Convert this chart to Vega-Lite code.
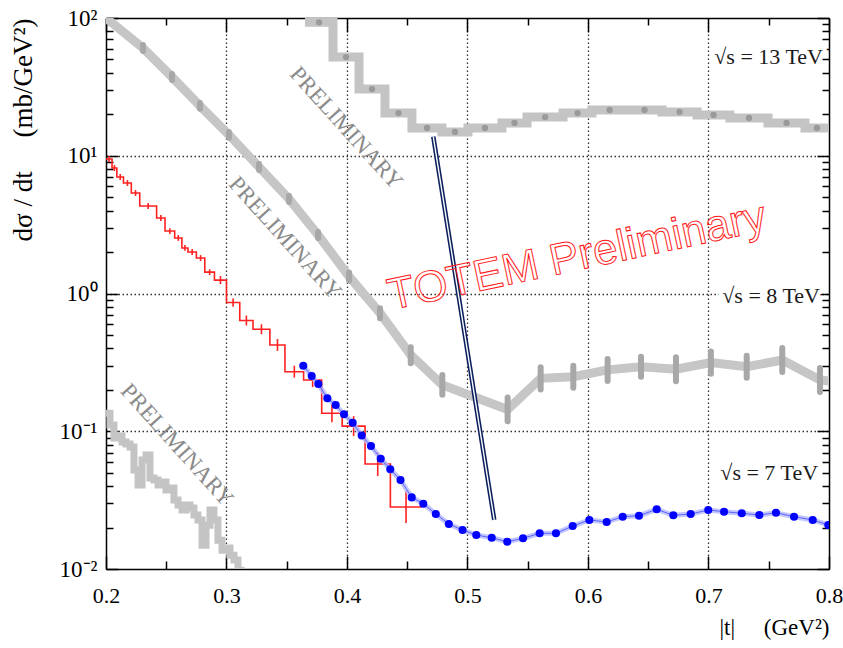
{
 "$schema": "https://vega.github.io/schema/vega-lite/v6.json",
 "width": 723,
 "height": 551,
 "autosize": "none",
 "padding": {"left": 106, "top": 18, "right": 14, "bottom": 79},
 "background": "white",
 "config": {"view": {"stroke": null}},
 "datasets": {
  "s13": [
   {"t": 0.3651, "v": 93}, {"t": 0.3884, "v": 52}, {"t": 0.41, "v": 30.5}, {"t": 0.4315, "v": 20.4},
   {"t": 0.4539, "v": 15.9}, {"t": 0.4788, "v": 14.9}, {"t": 0.5004, "v": 15.9}, {"t": 0.5286, "v": 17.3},
   {"t": 0.5494, "v": 19.1}, {"t": 0.5793, "v": 20.4}, {"t": 0.6033, "v": 21.5}, {"t": 0.6324, "v": 21.5},
   {"t": 0.6614, "v": 20.8}, {"t": 0.6905, "v": 19.8}, {"t": 0.7178, "v": 18.8}, {"t": 0.7494, "v": 17.3},
   {"t": 0.7801, "v": 15.9}, {"t": 0.8, "v": 15.9}
  ],
  "s13pts": [
   {"t": 0.3768, "v": 93}, {"t": 0.3992, "v": 52}, {"t": 0.4208, "v": 30.5}, {"t": 0.4427, "v": 20.4},
   {"t": 0.4664, "v": 15.9}, {"t": 0.4896, "v": 14.9}, {"t": 0.5145, "v": 15.9}, {"t": 0.539, "v": 17.3},
   {"t": 0.5644, "v": 19.1}, {"t": 0.5913, "v": 20.4}, {"t": 0.6179, "v": 21.5}, {"t": 0.6469, "v": 21.5},
   {"t": 0.676, "v": 20.8}, {"t": 0.7042, "v": 19.8}, {"t": 0.7336, "v": 18.8}, {"t": 0.7648, "v": 17.3},
   {"t": 0.79, "v": 15.9}
  ],
  "s8": [
   {"t": 0.2, "v": 100, "lo": null, "hi": null},
   {"t": 0.2307, "v": 60.5, "lo": 57.6, "hi": 63.6},
   {"t": 0.2548, "v": 37.3, "lo": 35.5, "hi": 39.2},
   {"t": 0.278, "v": 23, "lo": 21.9, "hi": 24.2},
   {"t": 0.302, "v": 14.2, "lo": 13.5, "hi": 14.9},
   {"t": 0.327, "v": 8.28, "lo": 7.88, "hi": 8.7},
   {"t": 0.3519, "v": 4.85, "lo": 4.61, "hi": 5.1},
   {"t": 0.376, "v": 2.66, "lo": 2.53, "hi": 2.8},
   {"t": 0.4017, "v": 1.33, "lo": 1.244, "hi": 1.422},
   {"t": 0.4274, "v": 0.72, "lo": 0.662, "hi": 0.783},
   {"t": 0.4529, "v": 0.357, "lo": 0.312, "hi": 0.408},
   {"t": 0.4791, "v": 0.217, "lo": 0.184, "hi": 0.256},
   {"t": 0.5333, "v": 0.144, "lo": 0.118, "hi": 0.176},
   {"t": 0.5607, "v": 0.242, "lo": 0.201, "hi": 0.291},
   {"t": 0.5878, "v": 0.249, "lo": 0.207, "hi": 0.299},
   {"t": 0.6163, "v": 0.279, "lo": 0.232, "hi": 0.335},
   {"t": 0.644, "v": 0.294, "lo": 0.249, "hi": 0.348},
   {"t": 0.673, "v": 0.282, "lo": 0.231, "hi": 0.345},
   {"t": 0.702, "v": 0.315, "lo": 0.262, "hi": 0.379},
   {"t": 0.7317, "v": 0.294, "lo": 0.245, "hi": 0.353},
   {"t": 0.7612, "v": 0.329, "lo": 0.269, "hi": 0.402},
   {"t": 0.7925, "v": 0.236, "lo": 0.193, "hi": 0.288},
   {"t": 0.8, "v": 0.232, "lo": null, "hi": null}
  ],
  "s7old": [
   {"t": 0.2, "v": 0.135}, {"t": 0.2033, "v": 0.111}, {"t": 0.2066, "v": 0.0893}, {"t": 0.21, "v": 0.0924},
   {"t": 0.2133, "v": 0.0836}, {"t": 0.2166, "v": 0.0808}, {"t": 0.2199, "v": 0.0769}, {"t": 0.2232, "v": 0.0523},
   {"t": 0.2266, "v": 0.0407}, {"t": 0.2299, "v": 0.0618}, {"t": 0.2332, "v": 0.0673}, {"t": 0.2365, "v": 0.0458},
   {"t": 0.2398, "v": 0.0443}, {"t": 0.2432, "v": 0.0407}, {"t": 0.2465, "v": 0.0428}, {"t": 0.2498, "v": 0.0375},
   {"t": 0.2531, "v": 0.0387}, {"t": 0.2564, "v": 0.0317}, {"t": 0.2598, "v": 0.0292}, {"t": 0.2631, "v": 0.0268},
   {"t": 0.2664, "v": 0.0292}, {"t": 0.2697, "v": 0.0277}, {"t": 0.273, "v": 0.0247}, {"t": 0.2763, "v": 0.0227},
   {"t": 0.2797, "v": 0.0149}, {"t": 0.283, "v": 0.0208}, {"t": 0.2863, "v": 0.0268}, {"t": 0.2896, "v": 0.0227},
   {"t": 0.2929, "v": 0.0162}, {"t": 0.2963, "v": 0.0137}, {"t": 0.2996, "v": 0.0142}, {"t": 0.3029, "v": 0.0126},
   {"t": 0.3062, "v": 0.0116}, {"t": 0.3095, "v": 0.0098}, {"t": 0.315, "v": 0.0098}
  ],
  "red": [
   {"t": 0.2, "v": 9.47}, {"t": 0.205, "v": 8.15}, {"t": 0.209, "v": 7.01}, {"t": 0.2145, "v": 6.34},
   {"t": 0.221, "v": 5.37}, {"t": 0.228, "v": 4.32}, {"t": 0.242, "v": 3.53}, {"t": 0.249, "v": 2.84},
   {"t": 0.257, "v": 2.53}, {"t": 0.263, "v": 2.14}, {"t": 0.268, "v": 2.0}, {"t": 0.275, "v": 1.81},
   {"t": 0.282, "v": 1.43}, {"t": 0.29, "v": 1.25}, {"t": 0.3, "v": 0.86}, {"t": 0.311, "v": 0.637},
   {"t": 0.322, "v": 0.55}, {"t": 0.336, "v": 0.423}, {"t": 0.3485, "v": 0.2706}, {"t": 0.364, "v": 0.2355},
   {"t": 0.379, "v": 0.135}, {"t": 0.396, "v": 0.109}, {"t": 0.415, "v": 0.0578}, {"t": 0.436, "v": 0.0282},
   {"t": 0.462, "v": 0.0282}
  ],
  "redErr": [
   {"t": 0.2025, "lo": 9.0, "hi": 9.96}, {"t": 0.207, "lo": 7.75, "hi": 8.57}, {"t": 0.2118, "lo": 6.67, "hi": 7.37},
   {"t": 0.2178, "lo": 6.03, "hi": 6.66}, {"t": 0.2245, "lo": 5.11, "hi": 5.64}, {"t": 0.235, "lo": 4.11, "hi": 4.54},
   {"t": 0.2455, "lo": 3.36, "hi": 3.71}, {"t": 0.253, "lo": 2.7, "hi": 2.98}, {"t": 0.26, "lo": 2.41, "hi": 2.66},
   {"t": 0.2655, "lo": 2.04, "hi": 2.25}, {"t": 0.2715, "lo": 1.9, "hi": 2.1}, {"t": 0.2785, "lo": 1.72, "hi": 1.9},
   {"t": 0.286, "lo": 1.36, "hi": 1.5}, {"t": 0.295, "lo": 1.17, "hi": 1.34}, {"t": 0.3055, "lo": 0.8, "hi": 0.92},
   {"t": 0.3165, "lo": 0.586, "hi": 0.692}, {"t": 0.329, "lo": 0.506, "hi": 0.598}, {"t": 0.3423, "lo": 0.383, "hi": 0.467},
   {"t": 0.3563, "lo": 0.245, "hi": 0.299}, {"t": 0.3715, "lo": 0.2095, "hi": 0.2647}, {"t": 0.3875, "lo": 0.116, "hi": 0.157},
   {"t": 0.4055, "lo": 0.0922, "hi": 0.1288}, {"t": 0.4255, "lo": 0.0473, "hi": 0.0706}, {"t": 0.449, "lo": 0.0216, "hi": 0.0369}
  ],
  "blue": [
   {"t": 0.3637, "v": 0.2991}, {"t": 0.3707, "v": 0.2518}, {"t": 0.3762, "v": 0.2203}, {"t": 0.3837, "v": 0.1735},
   {"t": 0.3906, "v": 0.1551}, {"t": 0.3975, "v": 0.1327}, {"t": 0.4047, "v": 0.1154}, {"t": 0.4122, "v": 0.0931},
   {"t": 0.4199, "v": 0.0781}, {"t": 0.428, "v": 0.0632}, {"t": 0.4359, "v": 0.053}, {"t": 0.4444, "v": 0.0443},
   {"t": 0.4537, "v": 0.0331}, {"t": 0.4633, "v": 0.0298}, {"t": 0.4737, "v": 0.0251}, {"t": 0.4845, "v": 0.0212},
   {"t": 0.4959, "v": 0.0192}, {"t": 0.5073, "v": 0.01765}, {"t": 0.5201, "v": 0.01685}, {"t": 0.533, "v": 0.01578},
   {"t": 0.5461, "v": 0.0167}, {"t": 0.5599, "v": 0.01816}, {"t": 0.5734, "v": 0.01816}, {"t": 0.5873, "v": 0.0205},
   {"t": 0.6011, "v": 0.0227}, {"t": 0.6155, "v": 0.02194}, {"t": 0.6288, "v": 0.02397}, {"t": 0.6423, "v": 0.02437},
   {"t": 0.657, "v": 0.02712}, {"t": 0.6708, "v": 0.02453}, {"t": 0.6852, "v": 0.02507}, {"t": 0.6998, "v": 0.02681},
   {"t": 0.7129, "v": 0.02606}, {"t": 0.7276, "v": 0.02538}, {"t": 0.7422, "v": 0.02466}, {"t": 0.756, "v": 0.02563},
   {"t": 0.771, "v": 0.02397}, {"t": 0.7865, "v": 0.0227}, {"t": 0.7994, "v": 0.02087}
  ],
  "labels": [
   {"t": 0.795, "v": 52, "txt": "√s = 13 TeV"},
   {"t": 0.7925, "v": 0.959, "txt": "√s = 8 TeV"},
   {"t": 0.7909, "v": 0.0498, "txt": "√s = 7 TeV"}
  ],
  "prelim": [
   {"t": 0.3992, "v": 15.9},
   {"t": 0.3486, "v": 2.53},
   {"t": 0.2589, "v": 0.0795}
  ]
 },
 "resolve": {"axis": {"x": "independent", "y": "independent"}},
 "layer": [
  {
   "data": {"name": "s13"},
   "mark": {"type": "line", "interpolate": "step-after", "color": "#c4c4c4", "strokeWidth": 9, "clip": true},
   "encoding": {
    "x": {"field": "t", "type": "quantitative",
     "scale": {"domain": [0.2, 0.8], "nice": false, "zero": false},
     "axis": {
      "orient": "bottom",
      "values": [0.2, 0.25, 0.3, 0.35, 0.4, 0.45, 0.5, 0.55, 0.6, 0.65, 0.7, 0.75, 0.8],
      "labelExpr": "abs(datum.value*10 - round(datum.value*10)) < 0.001 ? format(datum.value, '.1f') : ''",
      "labelFont": "Liberation Serif", "labelFontSize": 22, "labelColor": "black",
      "labelOverlap": false, "labelBound": false, "labelFlush": false, "labelPadding": 29,
      "tickSize": {"condition": {"test": "abs(datum.value*10 - round(datum.value*10)) < 0.001", "value": -13}, "value": -8},
      "tickColor": "black", "tickWidth": 1.5,
      "domainColor": "black", "domainWidth": 1.5,
      "grid": true, "gridColor": "#333333", "gridDash": [1.5, 2.5], "gridWidth": 1.3,
      "gridOpacity": {"condition": {"test": "abs(datum.value*10 - round(datum.value*10)) < 0.001 && datum.value > 0.25 && datum.value < 0.75", "value": 1}, "value": 0},
      "title": "|t|\u2003 (GeV²)", "titleFont": "Liberation Serif", "titleFontSize": 23, "titleFontWeight": "normal",
      "titleColor": "black", "titleAnchor": "end", "titlePadding": 5
     }
    },
    "y": {"field": "v", "type": "quantitative",
     "scale": {"type": "log", "domain": [0.01, 100], "nice": false},
     "axis": {
      "orient": "left",
      "values": [0.01, 0.02, 0.03, 0.04, 0.05, 0.06, 0.07, 0.08, 0.09, 0.1, 0.2, 0.3, 0.4, 0.5, 0.6, 0.7, 0.8, 0.9, 1, 2, 3, 4, 5, 6, 7, 8, 9, 10, 20, 30, 40, 50, 60, 70, 80, 90, 100],
      "labelExpr": "datum.value == 100 ? '10²' : datum.value == 10 ? '10¹' : datum.value == 1 ? '10⁰' : datum.value == 0.1 ? '10⁻¹' : datum.value == 0.01 ? '10⁻²' : ''",
      "labelFont": "Liberation Serif", "labelFontSize": 23, "labelColor": "black",
      "labelOverlap": false, "labelBound": false, "labelFlush": false, "labelPadding": 21,
      "tickSize": {"condition": {"test": "datum.value == 0.01 || datum.value == 0.1 || datum.value == 1 || datum.value == 10 || datum.value == 100", "value": -12}, "value": -7},
      "tickColor": "black", "tickWidth": 1.5,
      "domainColor": "black", "domainWidth": 1.5,
      "grid": true, "gridColor": "#333333", "gridDash": [1.5, 2.5], "gridWidth": 1.3,
      "gridOpacity": {"condition": {"test": "datum.value == 0.1 || datum.value == 1 || datum.value == 10", "value": 1}, "value": 0},
      "title": "dσ / dt\u2003 (mb/GeV²)", "titleFont": "Liberation Serif", "titleFontSize": 27, "titleFontWeight": "normal",
      "titleColor": "black", "titleAnchor": "end", "titlePadding": 22
     }
    }
   }
  },
  {
   "data": {"name": "s13pts"},
   "mark": {"type": "point", "filled": true, "color": "#9a9a9a", "size": 40, "opacity": 1, "clip": true},
   "encoding": {
    "x": {"field": "t", "type": "quantitative", "axis": null},
    "y": {"field": "v", "type": "quantitative", "axis": null}
   }
  },
  {
   "data": {"name": "s8"},
   "mark": {"type": "line", "color": "#c6c6c6", "strokeWidth": 9, "clip": true},
   "encoding": {
    "x": {"field": "t", "type": "quantitative",
     "axis": {
      "orient": "top", "labels": false, "grid": false, "title": null,
      "values": [0.2, 0.25, 0.3, 0.35, 0.4, 0.45, 0.5, 0.55, 0.6, 0.65, 0.7, 0.75, 0.8],
      "tickSize": {"condition": {"test": "abs(datum.value*10 - round(datum.value*10)) < 0.001", "value": -14}, "value": -7},
      "tickColor": "black", "tickWidth": 1.5, "domainColor": "black", "domainWidth": 1.5
     }
    },
    "y": {"field": "v", "type": "quantitative",
     "axis": {
      "orient": "right", "labels": false, "grid": false, "title": null,
      "values": [0.01, 0.02, 0.03, 0.04, 0.05, 0.06, 0.07, 0.08, 0.09, 0.1, 0.2, 0.3, 0.4, 0.5, 0.6, 0.7, 0.8, 0.9, 1, 2, 3, 4, 5, 6, 7, 8, 9, 10, 20, 30, 40, 50, 60, 70, 80, 90, 100],
      "tickSize": {"condition": {"test": "datum.value == 0.01 || datum.value == 0.1 || datum.value == 1 || datum.value == 10 || datum.value == 100", "value": -12}, "value": -7},
      "tickColor": "black", "tickWidth": 1.5, "domainColor": "black", "domainWidth": 1.5
     }
    }
   }
  },
  {
   "data": {"name": "s8"},
   "mark": {"type": "rule", "color": "#a8a8a8", "strokeWidth": 6, "strokeCap": "round", "clip": true},
   "encoding": {
    "x": {"field": "t", "type": "quantitative", "axis": null},
    "y": {"field": "lo", "type": "quantitative", "axis": null},
    "y2": {"field": "hi"}
   }
  },
  {
   "data": {"name": "s7old"},
   "mark": {"type": "line", "interpolate": "step-after", "color": "#c4c4c4", "strokeWidth": 7, "clip": true},
   "encoding": {
    "x": {"field": "t", "type": "quantitative", "axis": null},
    "y": {"field": "v", "type": "quantitative", "axis": null}
   }
  },
  {
   "data": {"name": "red"},
   "mark": {"type": "line", "interpolate": "step-after", "color": "#ff2020", "strokeWidth": 1.6, "clip": true},
   "encoding": {
    "x": {"field": "t", "type": "quantitative", "axis": null},
    "y": {"field": "v", "type": "quantitative", "axis": null}
   }
  },
  {
   "data": {"name": "redErr"},
   "mark": {"type": "rule", "color": "#ff2020", "strokeWidth": 1.6, "clip": true},
   "encoding": {
    "x": {"field": "t", "type": "quantitative", "axis": null},
    "y": {"field": "lo", "type": "quantitative", "axis": null},
    "y2": {"field": "hi"}
   }
  },
  {
   "data": {"name": "blue"},
   "mark": {"type": "line", "color": "#b4b8ff", "strokeWidth": 5, "opacity": 0.8, "clip": true},
   "encoding": {
    "x": {"field": "t", "type": "quantitative", "axis": null},
    "y": {"field": "v", "type": "quantitative", "axis": null}
   }
  },
  {
   "data": {"name": "blue"},
   "mark": {"type": "line", "color": "#5a64ff", "strokeWidth": 1, "clip": true},
   "encoding": {
    "x": {"field": "t", "type": "quantitative", "axis": null},
    "y": {"field": "v", "type": "quantitative", "axis": null}
   }
  },
  {
   "data": {"name": "blue"},
   "mark": {"type": "point", "filled": true, "color": "#0000ff", "size": 65, "opacity": 1, "clip": true},
   "encoding": {
    "x": {"field": "t", "type": "quantitative", "axis": null},
    "y": {"field": "v", "type": "quantitative", "axis": null}
   }
  },
  {
   "data": {"name": "prelim"},
   "mark": {"type": "text", "text": "PRELIMINARY", "font": "Liberation Serif", "fontSize": 23, "angle": 48, "color": "#8a8a8a", "align": "center", "baseline": "middle"},
   "encoding": {"x": {"field": "t", "type": "quantitative", "axis": null}, "y": {"field": "v", "type": "quantitative", "axis": null}}
  },
  {
   "data": {"name": "labels"},
   "mark": {"type": "text", "font": "Liberation Serif", "fontSize": 22, "color": "white", "stroke": "white", "strokeWidth": 8, "align": "right", "baseline": "middle"},
   "encoding": {"x": {"field": "t", "type": "quantitative", "axis": null}, "y": {"field": "v", "type": "quantitative", "axis": null}, "text": {"field": "txt"}}
  },
  {
   "data": {"name": "labels"},
   "mark": {"type": "text", "font": "Liberation Serif", "fontSize": 22, "color": "#1a1a1a", "align": "right", "baseline": "middle"},
   "encoding": {"x": {"field": "t", "type": "quantitative", "axis": null}, "y": {"field": "v", "type": "quantitative", "axis": null}, "text": {"field": "txt"}}
  },
  {
   "data": {"values": [{}]},
   "mark": {"type": "rule", "color": "#0a1f5c", "strokeWidth": 4.5},
   "encoding": {
    "x": {"datum": 0.4716, "type": "quantitative", "axis": null}, "y": {"datum": 13.75, "type": "quantitative", "axis": null},
    "x2": {"datum": 0.5222}, "y2": {"datum": 0.0227}
   }
  },
  {
   "data": {"values": [{}]},
   "mark": {"type": "rule", "color": "white", "strokeWidth": 1.4},
   "encoding": {
    "x": {"datum": 0.4716, "type": "quantitative", "axis": null}, "y": {"datum": 13.75, "type": "quantitative", "axis": null},
    "x2": {"datum": 0.5222}, "y2": {"datum": 0.0227}
   }
  },
  {
   "data": {"values": [{}]},
   "mark": {"type": "text", "text": "TOTEM Preliminary", "font": "Liberation Sans", "fontSize": 44, "angle": -12, "fill": "white", "fillOpacity": 0, "stroke": "#ff1a1a", "strokeWidth": 1, "align": "center", "baseline": "middle"},
   "encoding": {"x": {"datum": 0.5909, "type": "quantitative", "axis": null}, "y": {"datum": 1.84, "type": "quantitative", "axis": null}}
  }
 ]
}
